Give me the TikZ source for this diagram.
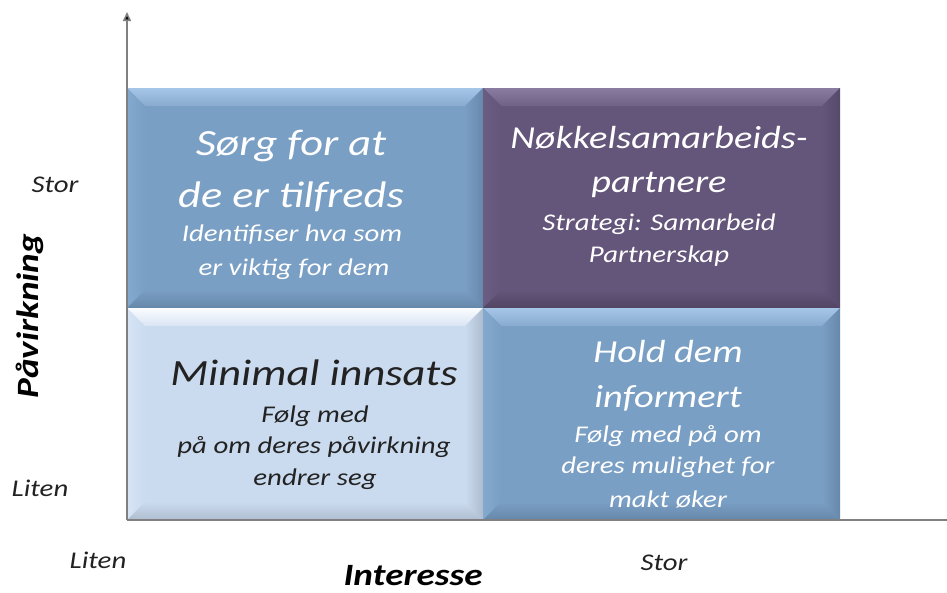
\documentclass[tikz,border=0pt]{standalone}
\usepackage{fontspec}
\setmainfont{Carlito}[FakeStretch=1.2]
\usetikzlibrary{arrows.meta}

% quadrant palettes: face, top bevel, left bevel, right bevel, bottom bevel
\definecolor{blueFace}{HTML}{7A9FC4}
\definecolor{blueTop}{HTML}{A6C6E8}
\definecolor{blueLeft}{HTML}{84A9CF}
\definecolor{blueRight}{HTML}{6688AB}
\definecolor{blueBottom}{HTML}{6587A9}
\definecolor{plumFace}{HTML}{64557A}
\definecolor{plumTop}{HTML}{8A7BA0}
\definecolor{plumLeft}{HTML}{6B5C81}
\definecolor{plumRight}{HTML}{56496B}
\definecolor{plumBottom}{HTML}{524563}
\definecolor{paleFace}{HTML}{CBDBEF}
\definecolor{paleTop}{HTML}{FAFCFF}
\definecolor{paleLeft}{HTML}{D6E4F5}
\definecolor{paleRight}{HTML}{ADBCCD}
\definecolor{paleBottom}{HTML}{AEBDCE}
\definecolor{axisGray}{HTML}{808080}
\definecolor{darkText}{HTML}{222222}

% #1..#4: corners (x1,y1,x2,y2); #5: palette prefix
\newcommand\bevelquad[5]{%
  \fill[#5Face] (#1,#2) rectangle (#3,#4);
  \shade[top color=#5Top, bottom color=#5Face!70!#5Top]
    (#1,#2) -- (#3,#2) -- ({#3-18},{#2+18}) -- ({#1+18},{#2+18}) -- cycle;
  \shade[left color=#5Left, right color=#5Face]
    (#1,#2) -- ({#1+18},{#2+18}) -- ({#1+18},{#4-18}) -- (#1,#4) -- cycle;
  \shade[left color=#5Face, right color=#5Right]
    (#3,#2) -- (#3,#4) -- ({#3-18},{#4-18}) -- ({#3-18},{#2+18}) -- cycle;
  \shade[top color=#5Face, bottom color=#5Bottom]
    (#1,#4) -- ({#1+18},{#4-18}) -- ({#3-18},{#4-18}) -- (#3,#4) -- cycle;
}

\tikzset{
  axisline/.style={draw=axisGray, line width=2.2pt},
  bighead/.style={anchor=base, font=\itshape\fontsize{37}{44}\selectfont, inner sep=0pt},
  smallhead/.style={anchor=base, font=\itshape\fontsize{32}{40}\selectfont, inner sep=0pt},
  subtext/.style={anchor=base, font=\itshape\fontsize{24}{30}\selectfont, inner sep=0pt},
  ticktext/.style={anchor=base, font=\itshape\fontsize{24}{28}\selectfont, text=darkText, inner sep=0pt},
  axistitle/.style={anchor=base, font=\bfseries\itshape\fontsize{31}{36}\selectfont, text=black, inner sep=0pt},
}

\begin{document}
\begin{tikzpicture}[x=1pt, y=-1pt]
\useasboundingbox (0,0) rectangle (947,592);

% four quadrants
\bevelquad{127}{88}{483}{308}{blue}
\bevelquad{483}{88}{840}{308}{plum}
\bevelquad{127}{308}{483}{520}{pale}
\bevelquad{483}{308}{840}{520}{blue}

% axes
\coordinate (origin) at (127,520);
\coordinate (ytip) at (127,12);
\coordinate (xend) at (947,520);
\draw[axisline] (origin) -- (xend);
\draw[axisline, line width=1.6pt, -{Triangle[length=9pt, width=8pt, fill=black]}] (origin) -- (ytip);

% upper left quadrant
\node[bighead, text=white] (tlH1) at (291,155) {Sørg for at};
\node[bighead, text=white] (tlH2) at (291,207) {de er tilfreds};
\node[subtext, text=white] (tlS1) at (292,241) {Identifiser hva som};
\node[subtext, text=white] (tlS2) at (294,275) {er viktig for dem};

% upper right quadrant
\node[smallhead, text=white] (trH1) at (659,148) {Nøkkelsamarbeids-};
\node[smallhead, text=white] (trH2) at (659,192) {partnere};
\node[subtext, text=white] (trS1) at (659,230) {Strategi: Samarbeid};
\node[subtext, text=white] (trS2) at (659,262) {Partnerskap};

% lower left quadrant
\node[bighead, text=darkText] (blH1) at (314,385) {Minimal innsats};
\node[subtext, text=darkText] (blS1) at (315,422) {Følg med};
\node[subtext, text=darkText] (blS2) at (314,453) {på om deres påvirkning};
\node[subtext, text=darkText] (blS3) at (315,485) {endrer seg};

% lower right quadrant
\node[smallhead, text=white] (brH1) at (668,362) {Hold dem};
\node[smallhead, text=white] (brH2) at (668,407) {informert};
\node[subtext, text=white] (brS1) at (668,442) {Følg med på om};
\node[subtext, text=white] (brS2) at (668,473) {deres mulighet for};
\node[subtext, text=white] (brS3) at (668,507) {makt øker};

% axis labels
\node[ticktext] (yHigh) at (55,192) {Stor};
\node[ticktext] (yLow) at (40,496) {Liten};
\node[axistitle, rotate=90] (yTitle) at (38,316) {Påvirkning};
\node[ticktext] (xLow) at (98,568) {Liten};
\node[ticktext] (xHigh) at (664,570) {Stor};
\node[axistitle] (xTitle) at (413,585) {Interesse};
\end{tikzpicture}
\end{document}
